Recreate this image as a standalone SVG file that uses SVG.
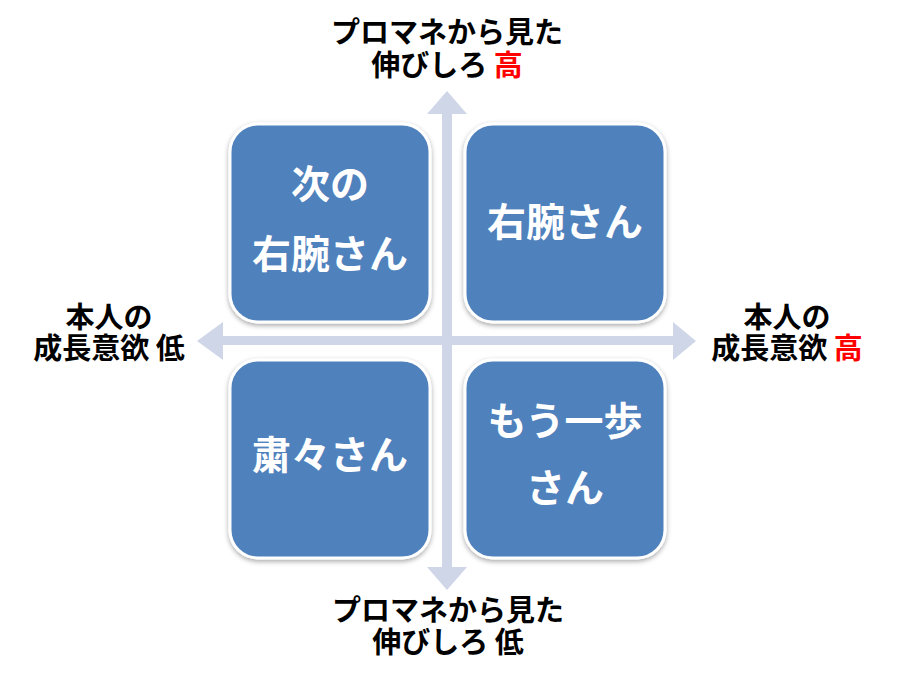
<svg xmlns="http://www.w3.org/2000/svg" width="900" height="675" viewBox="0 0 900 675">
<style>
.box{fill:#4F81BD;stroke:#FFFFFF;stroke-width:3}
.bt{font-family:"Noto Sans CJK JP","Noto Sans",sans-serif;font-weight:bold;font-size:39px;fill:#FFFFFF;text-anchor:middle}
.lb{font-family:"Noto Sans CJK JP","Noto Sans",sans-serif;font-weight:bold;font-size:29px;fill:#000000;text-anchor:middle}
.red{fill:#FF0000}
.ax{fill:#CED6E8}
</style>
<defs>
<filter id="sh" x="-20%" y="-20%" width="140%" height="140%">
<feDropShadow dx="0" dy="2" stdDeviation="2.5" flood-color="#000000" flood-opacity="0.35"/>
</filter>
</defs>
<rect width="900" height="675" fill="#FFFFFF"/>
<g id="connectors">
<polygon class="ax" points="447,91 467,114 452,114 452,567 467,567 447,590 427,567 442,567 442,114 427,114"/>
<polygon class="ax" points="197,341 223,322 223,336 673,336 673,322 696,341 673,360 673,345 223,345 223,360"/>
</g>
<g id="node-tl">
<rect class="box" x="230" y="124" width="200" height="198" rx="28" filter="url(#sh)"/>
<text class="bt"><tspan x="330" y="198">次の</tspan><tspan x="330" y="268">右腕さん</tspan></text>
</g>
<g id="node-tr">
<rect class="box" x="465" y="124" width="200" height="198" rx="28" filter="url(#sh)"/>
<text class="bt" x="565" y="236">右腕さん</text>
</g>
<g id="node-bl">
<rect class="box" x="230" y="360" width="200" height="198" rx="28" filter="url(#sh)"/>
<text class="bt" x="330" y="469">粛々さん</text>
</g>
<g id="node-br">
<rect class="box" x="465" y="360" width="200" height="198" rx="28" filter="url(#sh)"/>
<text class="bt"><tspan x="565" y="435">もう一歩</tspan><tspan x="565" y="502">さん</tspan></text>
</g>
<g id="label-top">
<text class="lb"><tspan x="447" y="43">プロマネから見た</tspan><tspan x="447" y="76">伸びしろ <tspan class="red">高</tspan></tspan></text>
</g>
<g id="label-bottom">
<text class="lb"><tspan x="448" y="621">プロマネから見た</tspan><tspan x="448" y="653">伸びしろ 低</tspan></text>
</g>
<g id="label-left">
<text class="lb"><tspan x="109" y="328">本人の</tspan><tspan x="109" y="359">成長意欲 低</tspan></text>
</g>
<g id="label-right">
<text class="lb"><tspan x="787" y="328">本人の</tspan><tspan x="787" y="359">成長意欲 <tspan class="red">高</tspan></tspan></text>
</g>
</svg>
